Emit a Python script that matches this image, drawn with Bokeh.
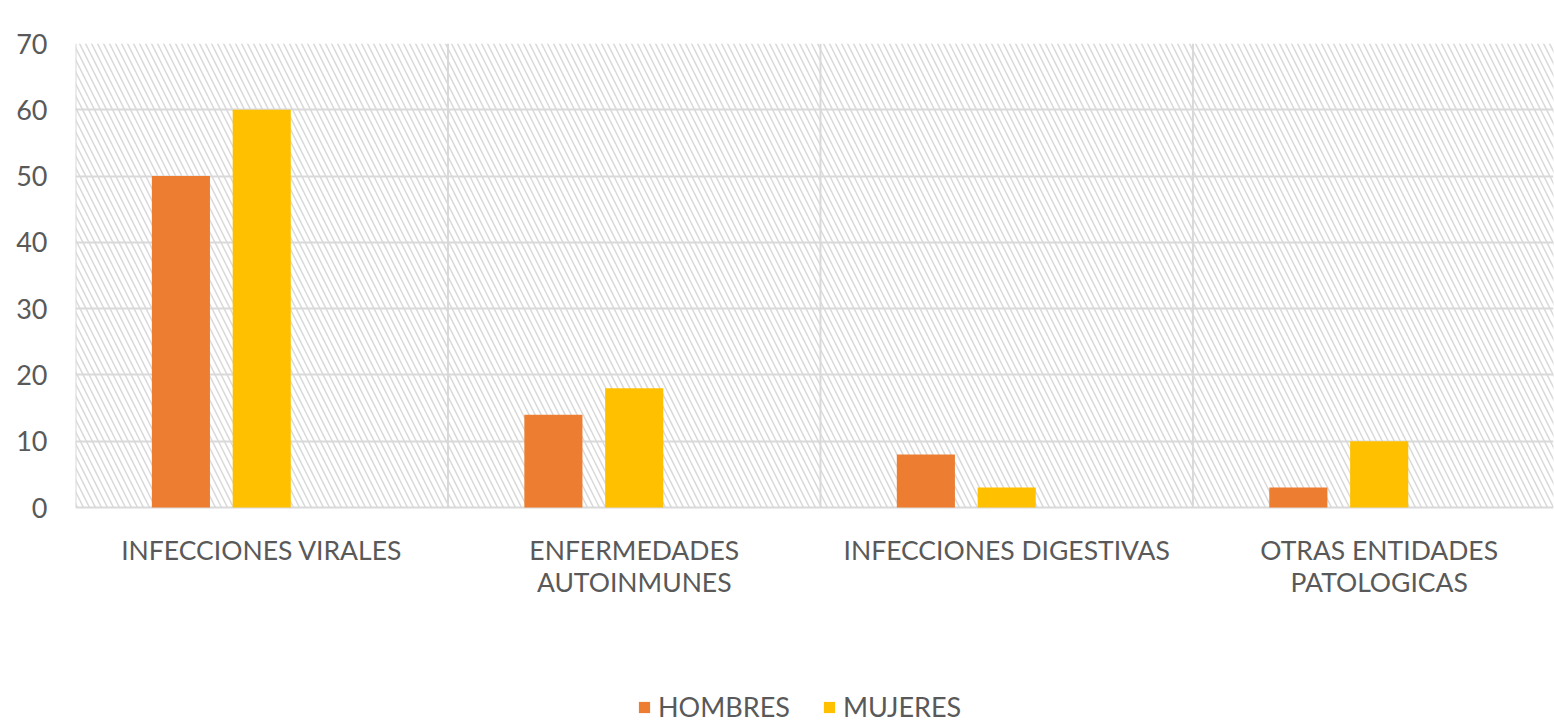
from bokeh.plotting import figure
from bokeh.models import ColumnDataSource, Range1d, FixedTicker, Legend, LegendItem
from bokeh.core.properties import value
from bokeh.transform import dodge
from bokeh.embed import file_html
from bokeh.resources import INLINE

categories = ["INFECCIONES VIRALES", "ENFERMEDADES\nAUTOINMUNES",
              "INFECCIONES DIGESTIVAS", "OTRAS ENTIDADES\nPATOLOGICAS"]
hombres = [50, 14, 8, 3]
mujeres = [60, 18, 3, 10]
y_ticks = [0, 10, 20, 30, 40, 50, 60, 70]

centers = [i + 0.5 for i in range(len(categories))]
boundaries = list(range(len(categories) + 1))
src = ColumnDataSource(dict(x=centers, h=hombres, m=mujeres))
lab_src = ColumnDataSource(dict(x=centers, lab=categories))
b_src = ColumnDataSource(dict(b=boundaries))

FONT = "Lato"
TXT = "#595959"
GRID = "#d9d9d9"

Y_MAX = 70
PLOT_H = 464          # pixel height of the 0..70 value area
FRAME_H = 681         # frame extends down to hold labels and legend
y_start = Y_MAX - FRAME_H * Y_MAX / PLOT_H

p = figure(output_backend="svg", toolbar_location=None,
           frame_width=1478, frame_height=FRAME_H,
           x_range=Range1d(0, 3.968), y_range=Range1d(y_start, Y_MAX),
           x_axis_location=None,
           min_border_left=75, min_border_right=1, min_border_top=43,
           min_border_bottom=0,
           outline_line_color=None)

# hatched background of the value area
p.quad(left=[0], right=[boundaries[-1]], bottom=[0], top=[Y_MAX], fill_alpha=0,
       line_color=None, hatch_pattern="\\", hatch_color=GRID, hatch_scale=12,
       hatch_weight=1.5)

# vertical category separators
p.segment(x0="b", y0=0, x1="b", y1=Y_MAX, source=b_src, line_color=GRID, line_width=2)

rh = p.vbar(x=dodge("x", -0.217, range=p.x_range), top="h", width=0.156, source=src,
            fill_color="#ED7D31", line_color=None)
rm = p.vbar(x=dodge("x", 0.0, range=p.x_range), top="m", width=0.156, source=src,
            fill_color="#FFC000", line_color=None)

# category labels under the bars
p.text(x="x", y=0, text="lab", source=lab_src, text_font=value(FONT),
       text_font_size="26.5px", text_color=TXT, text_align="center",
       text_baseline="top", y_offset=26, text_line_height=1.02)

p.yaxis.ticker = FixedTicker(ticks=y_ticks)
p.yaxis.major_tick_line_color = None
p.yaxis.minor_tick_line_color = None
p.yaxis.axis_line_color = None
p.yaxis.major_label_text_font = FONT
p.yaxis.major_label_text_font_size = "27px"
p.yaxis.major_label_text_color = TXT
p.yaxis.major_label_standoff = 22

p.xgrid.visible = False
p.ygrid.ticker = FixedTicker(ticks=y_ticks)
p.ygrid.grid_line_color = GRID
p.ygrid.grid_line_width = 2

legend = Legend(items=[LegendItem(label="HOMBRES", renderers=[rh]),
                       LegendItem(label="MUJERES", renderers=[rm])],
                orientation="horizontal", location=(562, 1),
                label_text_font=FONT, label_text_font_size="27px",
                label_text_color=TXT, glyph_width=14, glyph_height=14,
                border_line_color=None, background_fill_alpha=0,
                spacing=32, margin=0, padding=0, label_standoff=7)
p.add_layout(legend, "center")

open("out.html", "w").write(file_html(p, INLINE))
